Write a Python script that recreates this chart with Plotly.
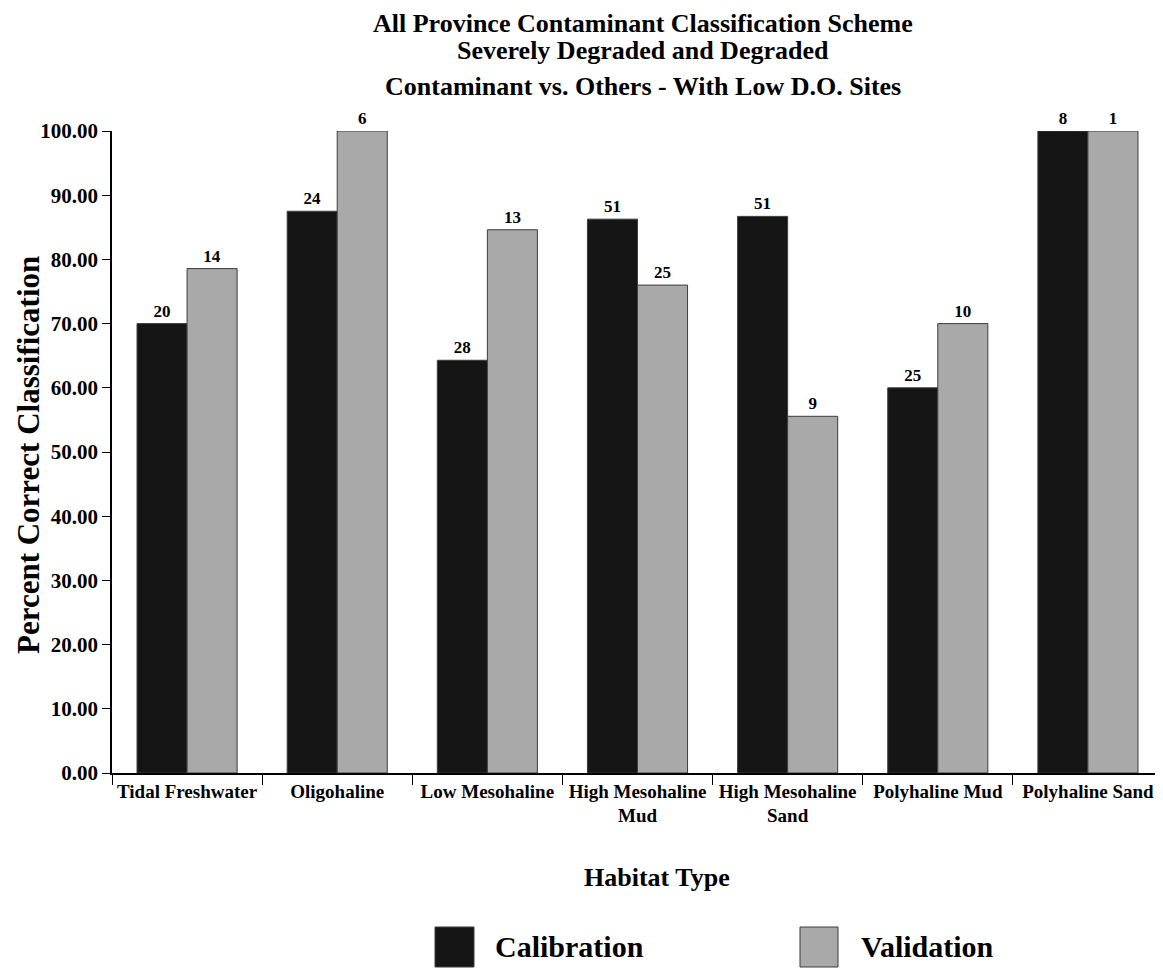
import plotly.graph_objects as go

categories = ["Tidal Freshwater", "Oligohaline", "Low Mesohaline", "High Mesohaline<br>Mud",
              "High Mesohaline<br>Sand", "Polyhaline Mud", "Polyhaline Sand"]
calibration_pct = [70.0, 87.5, 64.29, 86.27, 86.7, 60.0, 100.0]
validation_pct = [78.57, 100.0, 84.62, 76.0, 55.56, 70.0, 100.0]
calibration_n = [20, 24, 28, 51, 51, 25, 8]
validation_n = [14, 6, 13, 25, 9, 10, 1]
y_ticks = [0, 10, 20, 30, 40, 50, 60, 70, 80, 90, 100]

FONT = "Liberation Serif"
CAL_COLOR = "#151515"
VAL_COLOR = "#a9a9a9"
EDGE = "#3c3c3c"

# page geometry (browser adds an 8px body margin)
OFF = 8
PAGE_W, PAGE_H = 1163, 968
L, R, T, B = 112, 1163, 131, 773  # plot area in page pixels
W, H = PAGE_W - OFF, PAGE_H - OFF


def px(x):
    return (x - L) / (R - L)


def py(y):
    return (B - y) / (B - T)


fig = go.Figure()
fig.add_trace(go.Bar(
    x=categories, y=calibration_pct, name="Calibration",
    marker=dict(color=CAL_COLOR, line=dict(color=EDGE, width=1)),
    text=["<b>%d</b>" % n for n in calibration_n], textposition="outside",
    textfont=dict(family=FONT, size=17, color="black"), cliponaxis=False,
))
fig.add_trace(go.Bar(
    x=categories, y=validation_pct, name="Validation",
    marker=dict(color=VAL_COLOR, line=dict(color=EDGE, width=1)),
    text=["<b>%d</b>" % n for n in validation_n], textposition="outside",
    textfont=dict(family=FONT, size=17, color="black"), cliponaxis=False,
))

annotations = []
title_lines = [("All Province Contaminant Classification Scheme", 24),
               ("Severely Degraded and Degraded", 51),
               ("Contaminant vs. Others - With Low D.O. Sites", 86)]
for txt, yc in title_lines:
    annotations.append(dict(text="<b>%s</b>" % txt, x=px(643), y=py(yc), xref="paper", yref="paper",
                            showarrow=False, xanchor="center", yanchor="middle",
                            font=dict(family=FONT, size=26, color="black")))
annotations.append(dict(text="<b>Percent Correct Classification</b>", x=px(28), y=py(455),
                        xref="paper", yref="paper", showarrow=False, textangle=-90,
                        xanchor="center", yanchor="middle",
                        font=dict(family=FONT, size=31, color="black")))
annotations.append(dict(text="<b>Habitat Type</b>", x=px(657), y=py(877), xref="paper", yref="paper",
                        showarrow=False, xanchor="center", yanchor="middle",
                        font=dict(family=FONT, size=26, color="black")))

shapes = []
legend_items = [("Calibration", CAL_COLOR, 435, 474, 493),
                ("Validation", VAL_COLOR, 800, 838, 859)]
for name, col, x0, x1, tx in legend_items:
    shapes.append(dict(type="rect", xref="paper", yref="paper",
                       x0=px(x0), x1=px(x1), y0=py(967), y1=py(927),
                       fillcolor=col, line=dict(color=EDGE, width=1)))
    annotations.append(dict(text="<b>%s</b>" % name, x=px(tx), y=py(946), xref="paper", yref="paper",
                            showarrow=False, xanchor="left", yanchor="middle",
                            font=dict(family=FONT, size=30, color="black")))

fig.update_layout(
    width=W, height=H,
    margin=dict(l=L - OFF, r=PAGE_W - R, t=T - OFF, b=PAGE_H - B, pad=0),
    paper_bgcolor="white", plot_bgcolor="white",
    barmode="group", bargap=1/3, bargroupgap=0,
    showlegend=False,
    font=dict(family=FONT, color="black"),
    annotations=annotations, shapes=shapes,
    xaxis=dict(
        type="category", showline=True, linecolor="black", linewidth=1.5,
        ticks="outside", tickson="boundaries", ticklen=10, tickwidth=1, tickcolor="black",
        tickfont=dict(family=FONT, size=19, color="black"),
        showgrid=False, zeroline=False,
        tickvals=categories, ticktext=["<b>%s</b>" % c for c in categories],
    ),
    yaxis=dict(
        range=[0, 100], showline=True, linecolor="black", linewidth=1.5,
        ticks="outside", ticklen=8, tickwidth=1, tickcolor="black",
        tickvals=y_ticks, ticktext=["<b>%.2f</b>" % v for v in y_ticks],
        tickfont=dict(family=FONT, size=21, color="black"),
        showgrid=False, zeroline=False,
    ),
)

fig.write_html("out.html")
